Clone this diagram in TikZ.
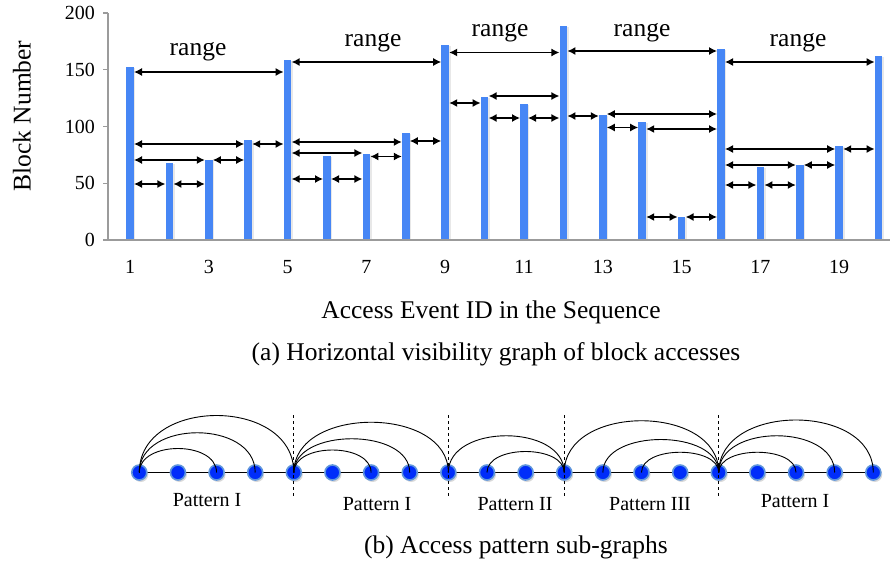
\documentclass[tikz,border=0pt]{standalone}
\usepackage{fontspec}
\setmainfont{Liberation Serif}
\usetikzlibrary{arrows.meta,shadows}
\definecolor{barblue}{RGB}{70,134,245}
\definecolor{axisgray}{RGB}{155,155,155}
\definecolor{nodeblue}{RGB}{0,45,250}
\definecolor{nodering}{RGB}{95,150,220}
\pgfdeclarelayer{background}
\pgfsetlayers{background,main}
\begin{document}
\begin{tikzpicture}[x=1pt,y=-1pt,
  bar/.style={rectangle,fill=barblue,minimum width=7.6pt,inner sep=0pt,draw=none,
    drop shadow={opacity=0.18,shadow xshift=1.5pt,shadow yshift=-1pt}},
  vis/.style={line width=1.3pt,{Latex[length=8pt,width=8pt]}-{Latex[length=8pt,width=8pt]}},
  axisline/.style={axisgray,line width=1.4pt},
  ticklbl/.style={font=\fontsize{20}{24}\selectfont,inner sep=0pt},
  biglbl/.style={font=\fontsize{25.5}{30}\selectfont,inner sep=0pt},
  patlbl/.style={font=\fontsize{20}{24}\selectfont,inner sep=0pt},
  gnode/.style={circle,fill=nodeblue,draw=nodering,line width=1.6pt,minimum size=15pt,inner sep=0pt,
    drop shadow={opacity=0.3,shadow xshift=1.5pt,shadow yshift=-2pt}},
  arcline/.style={line width=0.9pt},
  sep/.style={dashed,line width=0.7pt}
]
\useasboundingbox (0,0) rectangle (890,567);

% ---------- bars ----------
\foreach \i/\v in {1/152,2/68,3/70,4/88,5/158,6/74,7/76,8/94,9/172,10/126,11/120,12/188,13/110,14/104,15/20,16/168,17/64,18/66,19/83,20/162}{
  \node[bar,minimum height=\v*1.135pt,anchor=south] (b\i) at ({130+(\i-1)*39.4},240) {};
}

% ---------- axes ----------
\coordinate (o) at (108,240);
\coordinate (xend) at (890,240);
\coordinate (ytop) at (108,13);
\draw[axisline] (xend) -- (o) -- (ytop);
\foreach \v in {0,50,100,150,200}{
  \coordinate (yt\v) at (108,{240-\v*1.135});
  \draw[axisline] (yt\v) -- ++(-5,0);
  \node[ticklbl,anchor=east] (yl\v) at (95,{240-\v*1.135}) {\v};
}
\foreach \i in {1,3,...,19}{
  \node[ticklbl,anchor=base] (xl\i) at ({130+(\i-1)*39.4},273) {\i};
}
\node[biglbl,rotate=90] (ytitle) at (22,116) {Block Number};
\node[biglbl,anchor=base] (xtitle) at (491,318) {Access Event ID in the Sequence};
\node[biglbl,anchor=base] (capa) at (496,360) {(a) Horizontal visibility graph of block accesses};

% ---------- visibility arrows ----------
\foreach \a/\b/\y in {1/2/184,2/3/184,1/3/160,3/4/160,1/4/144,4/5/144,1/5/72,
  5/6/179,6/7/179,5/7/153,7/8/156.5,5/8/142,8/9/141,5/9/62,
  9/10/103,10/12/96,10/11/118,11/12/118,9/12/52.5,
  12/13/116,13/16/114,13/14/127.5,14/16/129,14/15/217,15/16/217,12/16/51,
  16/17/185,17/18/185,16/18/165,18/19/165,16/19/149,19/20/149,16/20/62}{
  \coordinate (hy) at (0,\y);
  \draw[vis] (b\a.east |- hy) -- (b\b.west |- hy);
}

% ---------- range labels ----------
\node[biglbl,anchor=base] (r1) at (198,56) {range};
\node[biglbl,anchor=base] (r2) at (373,47) {range};
\node[biglbl,anchor=base] (r3) at (500,37) {range};
\node[biglbl,anchor=base] (r4) at (642,37) {range};
\node[biglbl,anchor=base] (r5) at (798,47) {range};

% ---------- sub-graphs ----------
\foreach \i in {1,...,20}{
  \node[gnode] (n\i) at ({139.3+(\i-1)*38.63},472.5) {};
}
\begin{pgfonlayer}{background}
  \draw[line width=0.8pt] (n1.center) -- (n20.center);
\end{pgfonlayer}

\coordinate (dtop) at (0,415);
\coordinate (dbot) at (0,497);
\foreach \i in {5,9,12,16}{
  \draw[sep] (n\i |- dtop) -- (n\i |- dbot);
}

\foreach \a/\b/\k in {1/3/32,1/4/53,1/5/76,5/7/30,5/8/45,5/9/67,9/12/49,10/12/28,
  12/16/69,13/16/44,14/16/27,16/18/27,16/19/49,16/20/70}{
  \draw[arcline] (n\a.center) .. controls +(0,-\k) and +(0,-\k) .. (n\b.center);
}

\node[patlbl,anchor=base] (p1) at (207,506) {Pattern I};
\node[patlbl,anchor=base] (p2) at (377,510) {Pattern I};
\node[patlbl,anchor=base] (p3) at (515,510) {Pattern II};
\node[patlbl,anchor=base] (p4) at (650,510) {Pattern III};
\node[patlbl,anchor=base] (p5) at (795,507) {Pattern I};

\node[biglbl,anchor=base] (capb) at (516,553) {(b) Access pattern sub-graphs};
\end{tikzpicture}
\end{document}
